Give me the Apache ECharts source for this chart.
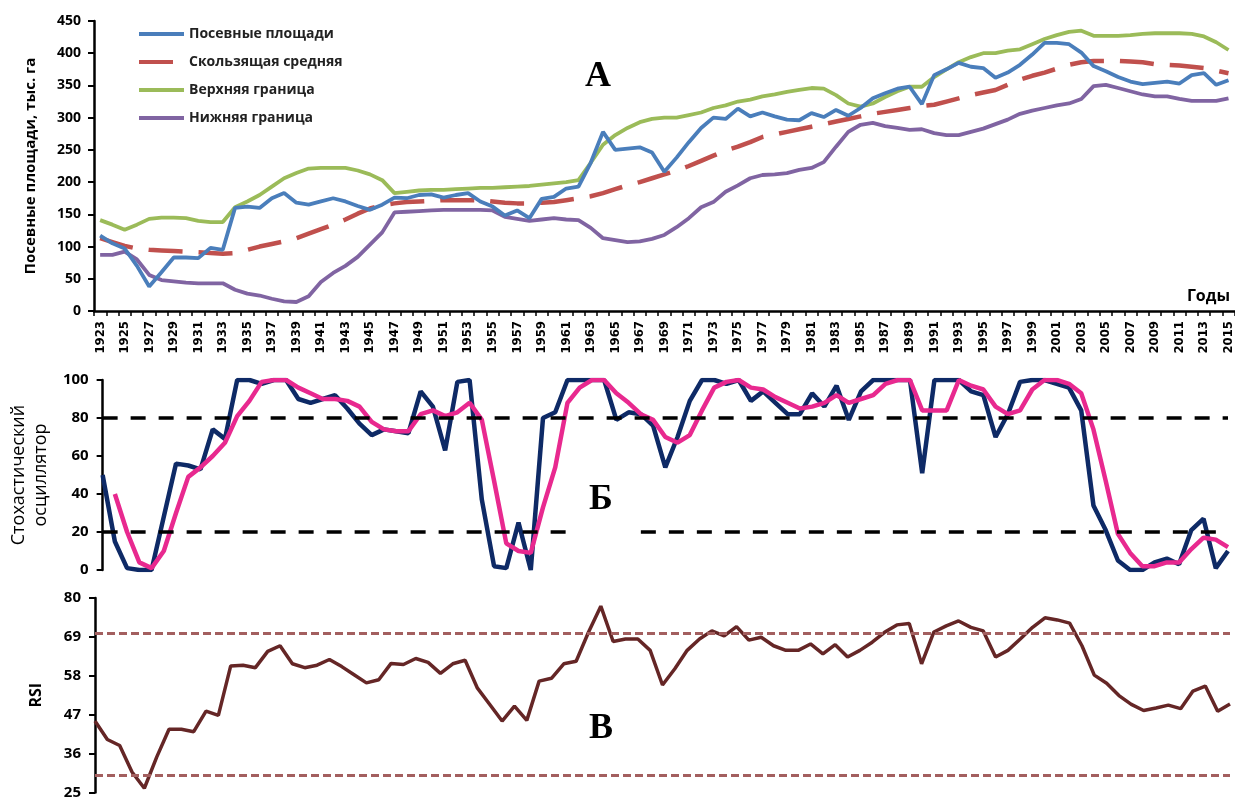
<!DOCTYPE html>
<html>
<head>
<meta charset="utf-8">
<script src="https://cdn.jsdelivr.net/npm/echarts@6/dist/echarts.min.js"></script>
<style>
html,body{margin:0;padding:0;background:#fff;}
#chart{width:1235px;height:800px;}
</style>
</head>
<body>
<div id="chart"></div>
<script>
const years = ['1923','1924','1925','1926','1927','1928','1929','1930','1931','1932',
'1933','1934','1935','1936','1937','1938','1939','1940','1941','1942',
'1943','1944','1945','1946','1947','1948','1949','1950','1951','1952',
'1953','1954','1955','1956','1957','1958','1959','1960','1961','1962',
'1963','1964','1965','1966','1967','1968','1969','1970','1971','1972',
'1973','1974','1975','1976','1977','1978','1979','1980','1981','1982',
'1983','1984','1985','1986','1987','1988','1989','1990','1991','1992',
'1993','1994','1995','1996','1997','1998','1999','2000','2001','2002',
'2003','2004','2005','2006','2007','2008','2009','2010','2011','2012',
'2013','2014','2015'];

const sownArea = [117,105,97,70,38,60,83,83,82,98,
95,160,162,160,175,183,168,165,170,175,
170,163,157,165,176,175,180,181,176,180,
183,170,162,148,156,144,174,177,190,193,
230,278,250,252,254,246,216,238,262,284,
300,298,314,302,308,302,297,296,307,301,
312,303,315,330,338,345,348,321,366,375,
385,379,377,362,370,382,398,416,416,414,
401,380,372,363,356,352,354,356,353,366,
369,351,358];

const movingAvg = [113,107,101,97,95,94,93,92,91,90,
89,90,95,100,104,108,113,120,127,134,
142,151,159,164,167,169,170,171,172,172,
172,172,170,168,167,167,168,169,172,175,
178,183,189,195,200,206,212,218,225,233,
241,249,255,262,270,274,278,282,286,290,
294,298,302,306,309,312,315,318,320,325,
330,335,339,343,351,359,365,370,376,382,
386,388,388,388,387,386,383,382,381,379,
377,373,369];

const upperBand = [141,134,126,134,143,145,145,144,140,138,
138,161,170,180,193,206,214,221,222,222,
222,218,212,203,183,185,187,188,188,189,
190,191,191,192,193,194,196,198,200,203,
230,258,273,284,293,298,300,300,304,308,
315,319,325,328,333,336,340,343,346,345,
335,322,317,322,332,341,348,348,363,375,
386,394,400,400,404,406,414,422,428,433,
435,427,427,427,428,430,431,431,431,430,
426,417,405];

const lowerBand = [87,87,92,80,56,48,46,44,43,43,
43,33,27,24,19,15,14,23,45,59,
70,84,103,122,153,154,155,156,157,157,
157,157,156,146,143,140,142,144,142,141,
129,113,110,107,108,112,118,130,144,161,
169,185,195,206,211,212,214,219,222,231,
255,278,289,292,287,284,281,282,276,273,
273,278,283,290,297,306,311,315,319,322,
329,349,351,346,341,336,333,333,329,326,
326,326,330];

const stochK = [50,15,1,0,0,28,56,55,53,74,
69,100,100,98,100,100,90,88,90,92,
85,77,71,74,73,72,94,
86,63,99,100,37,2,1,25,0,80,
83,100,100,100,100,79,83,82,76,54,
70,89,100,100,98,100,89,94,88,82,
82,93,86,97,
79,94,100,100,100,100,51,100,100,100,
94,92,70,82,99,100,100,98,96,84,
34,21,5,0,0,4,6,3,21,27,
1,10];

const stochD = [null,40,20,4,1,10,30,49,54,60,67,
81,89,99,100,100,96,93,90,90,89,
86,78,74,73,73,82,
84,81,83,88,79,47,14,10,9,33,
54,88,96,100,100,93,88,82,79,70,
67,71,84,96,99,100,96,95,91,88,
85,86,88,92,
88,90,92,98,100,100,84,84,84,100,
97,95,86,82,84,95,100,100,98,93,
74,47,19,9,2,2,4,4,11,17,
16,12];

const rsi = [45.2,40,38.3,30.8,26.2,35,42.9,42.9,42.2,48,46.8,
60.8,61,60.3,64.9,66.5,61.4,60.3,61,62.6,60.6,
58.3,56,56.9,61.5,61.2,62.9,
61.8,58.7,61.4,62.4,54.5,49.9,45.2,49.4,45.4,56.5,
57.3,61.4,62.1,70.3,77.7,67.7,68.4,68.4,65.2,55.4,
60,65.2,68.4,70.7,69.3,71.9,68.1,68.9,66.5,65.2,
65.2,67,64.2,66.8,
63.3,65.2,67.5,70.3,72.4,72.8,61.4,70.4,72.1,73.5,
71.7,70.7,63.3,65.2,68.4,71.7,74.4,73.8,72.9,66.5,
58.2,55.9,52.4,49.9,48.2,48.9,49.7,48.7,53.7,55.1,
48,50];

const seriesNames = ['Посевные площади','Скользящая средняя','Верхняя граница','Нижняя граница'];
const stochLevels = [80, 20];
const rsiLevels = [70, 30];

const FONT = '"Open Sans", "Noto Sans", "DejaVu Sans", sans-serif';
const NARROW = '"Liberation Sans Narrow", "DejaVu Sans Condensed", "Open Sans", sans-serif';
const chart = echarts.init(document.getElementById('chart'), null, {renderer:'canvas'});

const yLabel = {color:'#000', fontWeight:'bold', fontSize:14, fontFamily:FONT, margin:13};
const yLine = {show:true, lineStyle:{color:'#000', width:2.5}};
const yTick = {show:true, length:6, lineStyle:{color:'#000', width:2}};

const option = {
  animation:false,
  backgroundColor:'#fff',
  legend:{
    left:137, top:27, orient:'vertical', itemWidth:45, itemHeight:14, itemGap:14, padding:0,
    data:seriesNames,
    itemStyle:{opacity:0},
    lineStyle:{width:4},
    textStyle:{color:'#222', fontWeight:'bold', fontSize:14, fontFamily:FONT, padding:[0,0,0,0]}
  },
  grid:[
    {left:94, top:21, width:1141, height:290},
    {left:96, top:380, width:1132, height:190},
    {left:95, top:598, width:1135, height:199}
  ],
  xAxis:[
    {gridIndex:0, type:'category', data:years, boundaryGap:true,
     axisLine:{show:true, lineStyle:{color:'#000', width:2.5}},
     axisTick:{show:true, interval:0, length:5, lineStyle:{color:'#000', width:1.5}},
     axisLabel:{interval:1, rotate:90, color:'#000', fontWeight:'bold', fontSize:13, fontFamily:NARROW, margin:10},
     splitLine:{show:false}},
    {gridIndex:1, type:'category', data:years, boundaryGap:false, show:false},
    {gridIndex:2, type:'category', data:years, boundaryGap:false, show:false}
  ],
  yAxis:[
    {gridIndex:0, type:'value', min:0, max:450, interval:50,
     axisLine:yLine, axisTick:yTick, axisLabel:yLabel, splitLine:{show:false},
     name:'Посевные площади, тыс. га', nameLocation:'middle', nameGap:56,
     nameTextStyle:{color:'#000', fontWeight:'bold', fontSize:15, fontFamily:FONT}},
    {gridIndex:1, type:'value', min:0, max:100, interval:20,
     axisLine:yLine, axisTick:yTick, axisLabel:Object.assign({}, yLabel, {fontSize:15, margin:14}), splitLine:{show:false},
     name:'Стохастический\nосциллятор', nameLocation:'middle', nameGap:49,
     nameTextStyle:{color:'#000', fontSize:18, lineHeight:22, fontFamily:FONT}},
    {gridIndex:2, type:'value', min:25, max:80, interval:11,
     axisLine:yLine, axisTick:yTick, axisLabel:Object.assign({}, yLabel, {fontSize:15, margin:14}), splitLine:{show:false},
     name:'RSI', nameLocation:'middle', nameGap:51,
     nameTextStyle:{color:'#000', fontWeight:'bold', fontSize:16, fontFamily:FONT}}
  ],
  series:[
    {name:seriesNames[0], type:'line', data:sownArea, symbol:'none', xAxisIndex:0, yAxisIndex:0, z:4,
     lineStyle:{color:'#4a7ebb', width:3.8}, itemStyle:{color:'#4a7ebb'}},
    {name:seriesNames[1], type:'line', data:movingAvg, symbol:'none', xAxisIndex:0, yAxisIndex:0, z:3,
     lineStyle:{color:'#c0504d', width:4.5, type:[34,16]}, itemStyle:{color:'#c0504d'}},
    {name:seriesNames[2], type:'line', data:upperBand, symbol:'none', xAxisIndex:0, yAxisIndex:0, z:2,
     lineStyle:{color:'#9bbb59', width:3.8}, itemStyle:{color:'#9bbb59'}},
    {name:seriesNames[3], type:'line', data:lowerBand, symbol:'none', xAxisIndex:0, yAxisIndex:0, z:2,
     lineStyle:{color:'#8064a2', width:3.8}, itemStyle:{color:'#8064a2'}},
    {name:'%K', type:'line', data:stochK, symbol:'none', xAxisIndex:1, yAxisIndex:1, z:3,
     lineStyle:{color:'#0e2a66', width:4.5}, itemStyle:{color:'#0e2a66'},
     markLine:{silent:true, symbol:'none', label:{show:false},
       lineStyle:{color:'#000', width:3.5, type:[15,13]},
       data:[
         {yAxis:stochLevels[0]},
         [{coord:['1923', stochLevels[1]]},{coord:['1961', stochLevels[1]]}],
         [{coord:['1967', stochLevels[1]]},{coord:['2015', stochLevels[1]]}]
       ]}},
    {name:'%D', type:'line', data:stochD, symbol:'none', xAxisIndex:1, yAxisIndex:1, z:4,
     lineStyle:{color:'#e8298f', width:4.5}, itemStyle:{color:'#e8298f'}},
    {name:'RSI', type:'line', data:rsi, symbol:'none', xAxisIndex:2, yAxisIndex:2, z:4,
     lineStyle:{color:'#652626', width:3.5}, itemStyle:{color:'#652626'},
     markLine:{silent:true, symbol:'none', label:{show:false},
       lineStyle:{color:'#a35f5f', width:3, type:[8,4]},
       data:[{yAxis:rsiLevels[0]},{yAxis:rsiLevels[1]}]}}
  ],
  graphic:[
    {type:'text', x:598, y:77, style:{text:'А', font:'bold 36px "Liberation Serif", "DejaVu Serif", serif', fill:'#000', textAlign:'center', textVerticalAlign:'middle'}},
    {type:'text', x:601, y:500, style:{text:'Б', font:'bold 36px "Liberation Serif", "DejaVu Serif", serif', fill:'#000', textAlign:'center', textVerticalAlign:'middle'}},
    {type:'text', x:601, y:729, style:{text:'В', font:'bold 36px "Liberation Serif", "DejaVu Serif", serif', fill:'#000', textAlign:'center', textVerticalAlign:'middle'}},
    {type:'text', x:1230, y:296, style:{text:'Годы', font:'bold 16px "Open Sans", "Noto Sans", sans-serif', fill:'#000', textAlign:'right', textVerticalAlign:'middle'}}
  ]
};
chart.setOption(option);
</script>
</body>
</html>
